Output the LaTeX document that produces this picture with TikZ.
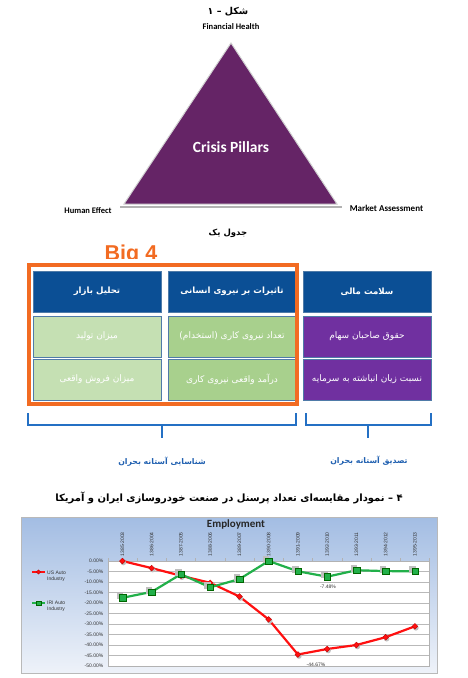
\documentclass[tikz,border=0pt]{standalone}
\usepackage{fontspec}
\setmainfont{Carlito}
\newfontfamily\fa[Script=Arabic]{DejaVu Sans}
\newfontfamily\arl{Liberation Sans}
\TeXXeTstate=1
\usetikzlibrary{shapes.geometric}
\definecolor{triP}{HTML}{652466}
\definecolor{hdrB}{HTML}{0B4F95}
\definecolor{lgreen}{HTML}{C5E0B3}
\definecolor{mgreen}{HTML}{A8D08D}
\definecolor{cpurp}{HTML}{7030A0}
\definecolor{orng}{HTML}{F26B22}
\definecolor{brB}{HTML}{2470C4}
\definecolor{lblB}{HTML}{2060B0}
\definecolor{cellE}{HTML}{4F7BA8}
\definecolor{chTop}{HTML}{A3BDE3}
\definecolor{chBot}{HTML}{EEF2F9}
\definecolor{usR}{HTML}{FF1010}
\definecolor{irG}{HTML}{22B04A}
\begin{document}
\begin{tikzpicture}[x=1pt,y=-1pt,
  cell/.style={minimum width=128pt, minimum height=41pt, inner sep=0pt, draw=cellE, line width=0.7pt, text=white, font=\fa\fontsize{9}{11}\selectfont},
  hdr/.style={cell, fill=hdrB, font=\fa\bfseries\fontsize{8.6}{10}\selectfont},
  lat/.style={font=\bfseries\fontsize{8.5}{10}\selectfont, inner sep=0pt},
  brace/.style={brB, line width=2.3pt},
  bracelbl/.style={text=lblB, font=\fa\bfseries\fontsize{7.8}{9}\selectfont, inner sep=0pt},
  tiny/.style={font=\arl\fontsize{5}{6}\selectfont, inner sep=0pt, text=black!80},
  usline/.style={usR, line width=2.2pt, line join=round},
  irline/.style={irG, line width=2.2pt, line join=round},
  usmark/.style={diamond, fill=usR, draw=red!70!black, line width=0.3pt, minimum size=6pt, inner sep=0pt},
  irmark/.style={rectangle, fill=irG, draw=green!40!black, line width=0.3pt, minimum size=6.5pt, inner sep=0pt}
]
\useasboundingbox (0,0) rectangle (468,678);

% ---------- figure 1 ----------
\node[font=\fa\bfseries\fontsize{9.5}{11}\selectfont, inner sep=0pt] (t1) at (228,12) {\beginR شکل – ۱\endR};
\node[lat] (fh) at (231,27) {Financial Health};
\coordinate (apex) at (231,43);
\coordinate (bl) at (124,204);
\coordinate (br) at (337,204);
\draw[gray!60, line width=1.6pt] (120,207) -- (342,207);
\fill[triP, draw=gray!35, line width=1pt] (apex) -- (bl) -- (br) -- cycle;
\node[text=white, font=\bfseries\fontsize{15.5}{18}\selectfont, inner sep=0pt] (cp) at (231,147) {Crisis Pillars};
\node[lat] (he) at (88,210.5) {Human Effect};
\node[lat, font=\bfseries\fontsize{9}{10}\selectfont] (ma) at (386.5,208) {Market Assessment};

% ---------- table ----------
\node[font=\fa\bfseries\fontsize{8.5}{10}\selectfont, inner sep=0pt] (t2) at (228,233) {\beginR جدول یک\endR};
\begin{scope}
\clip (80,230) rectangle (190,258.5);
\node[anchor=base, text=orng, font=\arl\bfseries\fontsize{21.5}{24}\selectfont, inner sep=0pt] (big) at (131,260.5) {Big 4};
\end{scope}

\node[hdr] (h1) at (97,291.5) {\beginR تحلیل بازار\endR};
\node[hdr] (h2) at (232,291.5) {\beginR تاثیرات بر نیروی انسانی\endR};
\node[hdr] (h3) at (367,291.5) {\beginR سلامت مالی\endR};
\node[cell, fill=lgreen] (c12) at (97,336.5) {\beginR میزان تولید\endR};
\node[cell, fill=lgreen] (c13) at (97,379.5) {\beginR میزان فروش واقعی\endR};
\node[cell, fill=mgreen] (c22) at (232,336.5) {\beginR تعداد نیروی کاری (استخدام)\endR};
\node[cell, fill=mgreen] (c23) at (232,379.5) {\beginR درآمد واقعی نیروی کاری\endR};
\node[cell, fill=cpurp] (c32) at (367,336.5) {\beginR حقوق صاحبان سهام\endR};
\node[cell, fill=cpurp] (c33) at (367,379.5) {\beginR نسبت زیان انباشته به سرمایه\endR};
\draw[orng, line width=4pt] (28.7,264.7) rectangle (297.3,404);

% braces
\draw[brace] (28,413) -- (28,425) -- (296,425) -- (296,413);
\draw[brace] (162,425) -- (162,438);
\draw[brace] (306,413) -- (306,425) -- (431,425) -- (431,413);
\draw[brace] (368,425) -- (368,438);
\node[bracelbl] (l1) at (162,461.5) {\beginR شناسایی آستانه بحران\endR};
\node[bracelbl] (l2) at (369,461) {\beginR تصدیق آستانه بحران\endR};

% ---------- chart ----------
\node[font=\fa\bfseries\fontsize{10}{12}\selectfont, inner sep=0pt] (t3) at (229,498) {\beginR ۴ – نمودار مقایسه‌ای تعداد پرسنل در صنعت خودروسازی ایران و آمریکا\endR};
\shade[top color=chTop, bottom color=chBot] (21.5,517) rectangle (437.5,673);
\draw[gray!55, line width=0.8pt] (21.5,517) rectangle (437.5,673);
\node[font=\bfseries\fontsize{11}{12}\selectfont, inner sep=0pt, text=black!85] (emp) at (236,524) {Employment};
\fill[white] (107.8,561) rectangle (429.6,666);
\foreach \k/\t in {0/0.00,1/-5.00,2/-10.00,3/-15.00,4/-20.00,5/-25.00,6/-30.00,7/-35.00,8/-40.00,9/-45.00,10/-50.00} {
  \draw[gray!55, line width=0.6pt] (107.8,561+10.5*\k) -- (429.6,561+10.5*\k);
  \node[tiny, anchor=east] (yl\k) at (103.5,561+10.5*\k) {\t\%};
}
\draw[gray!60, line width=0.6pt] (107.8,561) rectangle (429.6,666);
\foreach \k in {0,...,11} {
  \draw[gray!60, line width=0.5pt] (107.8+29.25*\k,561) -- (107.8+29.25*\k,558);
}
\foreach \i/\p/\q in {0/1385/2003,1/1386/2004,2/1387/2005,3/1388/2006,4/1389/2007,5/1390/2008,6/1391/2009,7/1392/2010,8/1393/2011,9/1394/2012,10/1395/2013} {
  \node[tiny, rotate=90, anchor=west] (cat\i) at (122.4+29.25*\i,556.5) {\p-\q};
}
\foreach \i/\u/\g in {0/561/597.8,1/568.1/591.9,2/575.7/574.2,3/582.8/587.3,4/596.5/579.1,5/619.4/561,6/654.5/571.3,7/649.0/576.7,8/645.0/570.2,9/637.2/571.1,10/626.3/571.3} {
  \coordinate (u\i) at (122.4+29.25*\i,\u);
  \coordinate (g\i) at (122.4+29.25*\i,\g);
}
\draw[usline] (u0) \foreach \i in {1,...,10} { -- (u\i) };
\draw[irline] (g0) \foreach \i in {1,...,10} { -- (g\i) };
\foreach \i in {0,...,10} {
  \fill[gray!50] ([shift={(1,1.5)}]u\i) circle (2.8pt);
  \node[usmark] (um\i) at (u\i) {};
  \fill[gray!50] ([shift={(0.8,1.6)}]g\i) rectangle ++(-6.5,-6.5);
  \node[irmark] (gm\i) at (g\i) {};
}
\node[tiny] (lb1) at (328,587) {-7.48\%};
\node[tiny] (lb2) at (316,665) {-44.67\%};

% legend
\coordinate (la1) at (32,572);
\coordinate (la2) at (45,572);
\draw[usR, line width=1.6pt] (la1) -- (la2);
\node[usmark, minimum size=4.5pt] (lm1) at (38.5,572) {};
\node[tiny, anchor=west] (lt1) at (47,572.3) {US Auto};
\node[tiny, anchor=west] (lt1b) at (47,579) {Industry};
\coordinate (lb1a) at (32,603);
\coordinate (lb2a) at (45,603);
\draw[irG, line width=1.6pt] (lb1a) -- (lb2a);
\node[irmark, minimum size=4.5pt] (lm2) at (38.5,603) {};
\node[tiny, anchor=west] (lt2) at (47,602.7) {IRI Auto};
\node[tiny, anchor=west] (lt2b) at (47,609.3) {Industry};
\end{tikzpicture}
\end{document}
